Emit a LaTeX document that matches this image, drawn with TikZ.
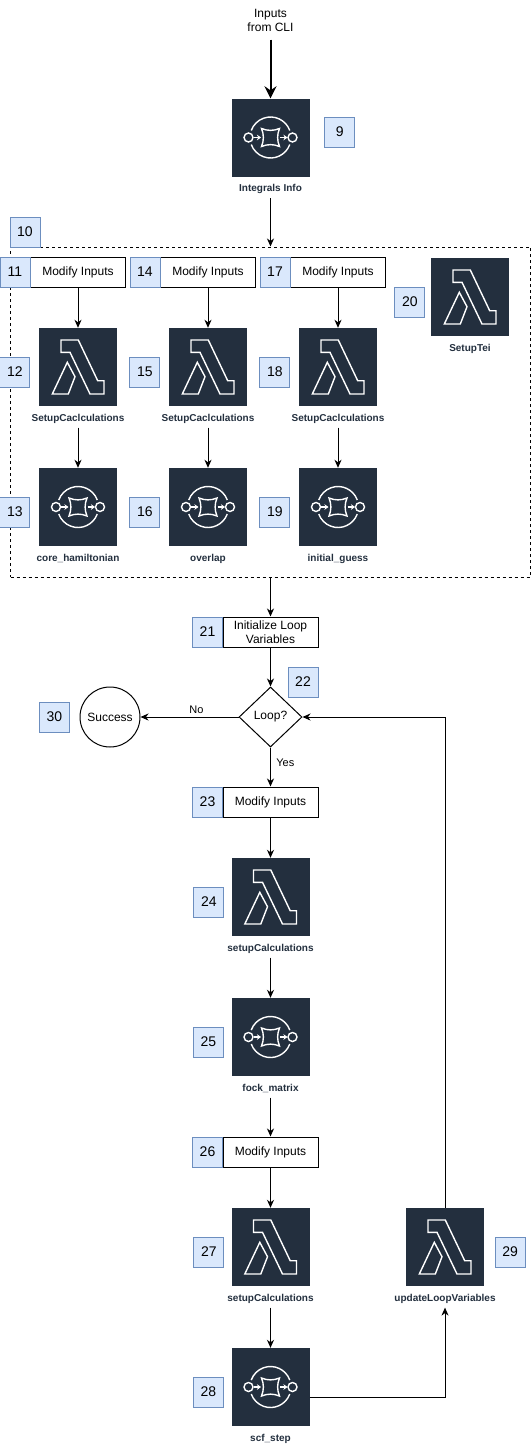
\documentclass[tikz,border=0pt]{standalone}
\usepackage{fontspec}
\setmainfont{Liberation Sans}
\usetikzlibrary{
    arrows.meta,
    shapes.geometric,
    positioning
}
\definecolor{awsdark}{HTML}{232F3E}
\definecolor{badgefill}{HTML}{DAE8FC}
\definecolor{badgeline}{HTML}{6C8EBF}
\tikzstyle{module} = [
    rectangle,
    draw=black,
    fill=white,
    line width=1pt,
    inner sep=0pt,
    minimum width=95pt,
    minimum height=30pt,
    align=center,
    font=\fontsize{12}{14.5}\selectfont
]
\tikzstyle{badge} = [
    rectangle,
    draw=badgeline,
    fill=badgefill,
    line width=1pt,
    inner sep=0pt,
    outer sep=0pt,
    minimum size=30pt,
    font=\fontsize{14}{16}\selectfont
]
\tikzstyle{service} = [
    rectangle,
    draw=none,
    fill=awsdark,
    inner sep=0pt,
    minimum size=78pt
]
\tikzstyle{caption} = [
    inner xsep=0pt,
    inner ysep=4pt,
    text height=8pt,
    text depth=2pt,
    text=awsdark,
    font=\fontsize{10}{11}\selectfont\bfseries
]
\tikzstyle{glyph} = [
    draw=white,
    line width=1.4pt,
    line join=miter
]
\tikzstyle{lambdabox} = [
    service,
    path picture={
        \begin{scope}[shift={(path picture bounding box.center)}]
            \draw[glyph] (-17,27) -- (0.3,27) -- (19.7,-13.7) -- (26,-13.7) -- (26,-27) -- (12,-27)
                -- (-8,14.7) -- (-17,14.7) -- cycle;
            \draw[glyph] (-10.7,4.7) -- (-3,-9.7) -- (-9.7,-27) -- (-25.7,-27) -- cycle;
        \end{scope}
    }
]
\tikzstyle{stepbox} = [
    service,
    path picture={
        \begin{scope}[shift={(path picture bounding box.center)}]
            \draw[glyph] (20:20.5) arc (20:160:20.5);
            \draw[glyph] (-20:20.5) arc (-20:-160:20.5);
            \draw[glyph] (-22,0) circle (4.5);
            \draw[glyph] (22,0) circle (4.5);
            \draw[glyph] (-9,9) .. controls (-3,6.5) and (3,6.5) .. (9,9)
                .. controls (6.5,3) and (6.5,-3) .. (9,-9)
                .. controls (3,-6.5) and (-3,-6.5) .. (-9,-9)
                .. controls (-6.5,-3) and (-6.5,3) .. (-9,9) -- cycle;
            \draw[glyph, -{Stealth[length=4pt,width=5.5pt]}] (-17,0) -- (-9.5,0);
            \draw[glyph, -{Stealth[length=4pt,width=5.5pt]}] (9.5,0) -- (17,0);
        \end{scope}
    }
]
\tikzstyle{flow} = [
    -{Stealth[length=8pt,width=7pt,inset=2.5pt]},
    line width=1pt,
    draw=black
]
\tikzstyle{bigflow} = [
    -{Stealth[length=12pt,width=12pt,inset=4pt]},
    line width=2pt,
    draw=black
]

\begin{document}
\begin{tikzpicture}[x=1pt, y=1pt]
        \useasboundingbox (0,0) rectangle (531,-1448);

        % Dashed group
        \node[draw=black, dashed, line width=1pt, inner sep=0pt, minimum width=520pt, minimum height=330pt] (group) at (270.5,-412) {};
        \node[badge] (n10) at (25,-232) {10};

        % Entry
        \node[align=center, font=\fontsize{12}{14}\selectfont] (cli) at (270.5,-20) {Inputs\\from CLI};
        \node[stepbox] (info) at (270.5,-137.5) {};
        \node[caption, below=3pt of info] (infolabel) {Integrals Info};
        \node[badge, right=15pt of info, yshift=5.5pt] (n9) {9};

        % First column
        \node[module] (modify1) at (78,-272) {Modify Inputs};
        \node[badge, left=0pt of modify1] (n11) {11};
        \node[lambdabox] (setup1) at (78,-367) {};
        \node[caption, below=3pt of setup1] (setup1label) {SetupCaclculations};
        \node[badge, left=9pt of setup1, yshift=-5pt] (n12) {12};
        \node[stepbox] (core) at (78,-507) {};
        \node[caption, below=3pt of core] (corelabel) {core\_hamiltonian};
        \node[badge, left=9pt of core, yshift=-5pt] (n13) {13};

        % Second column
        \node[module] (modify2) at (208,-272) {Modify Inputs};
        \node[badge, left=0pt of modify2] (n14) {14};
        \node[lambdabox] (setup2) at (208,-367) {};
        \node[caption, below=3pt of setup2] (setup2label) {SetupCaclculations};
        \node[badge, left=9pt of setup2, yshift=-5pt] (n15) {15};
        \node[stepbox] (overlap) at (208,-507) {};
        \node[caption, below=3pt of overlap] (overlaplabel) {overlap};
        \node[badge, left=9pt of overlap, yshift=-5pt] (n16) {16};

        % Third column
        \node[module] (modify3) at (338,-272) {Modify Inputs};
        \node[badge, left=0pt of modify3] (n17) {17};
        \node[lambdabox] (setup3) at (338,-367) {};
        \node[caption, below=3pt of setup3] (setup3label) {SetupCaclculations};
        \node[badge, left=9pt of setup3, yshift=-5pt] (n18) {18};
        \node[stepbox] (guess) at (338,-507) {};
        \node[caption, below=3pt of guess] (guesslabel) {initial\_guess};
        \node[badge, left=9pt of guess, yshift=-5pt] (n19) {19};

        % Fourth column
        \node[lambdabox] (tei) at (470,-297) {};
        \node[caption, below=3pt of tei] (teilabel) {SetupTei};
        \node[badge, left=6pt of tei, yshift=-5pt] (n20) {20};

        % Loop
        \node[module] (init) at (270.5,-632) {Initialize Loop\\Variables};
        \node[badge, left=0pt of init] (n21) {21};
        \node[diamond, draw=black, line width=1pt, inner sep=0pt, minimum width=63pt, minimum height=60pt, font=\fontsize{12}{14}\selectfont] (loop) at (270.5,-717) {Loop?};
        \node[badge] (n22) at (303,-682) {22};
        \node[circle, draw=black, line width=1pt, inner sep=0pt, minimum size=60pt, font=\fontsize{12}{14}\selectfont] (success) at (110,-717) {Success};
        \node[badge, left=10pt of success] (n30) {30};

        \node[module] (modify4) at (270.5,-802) {Modify Inputs};
        \node[badge, left=0pt of modify4] (n23) {23};
        \node[lambdabox] (setup4) at (270.5,-897) {};
        \node[caption, below=3pt of setup4] (setup4label) {setupCalculations};
        \node[badge, left=7.5pt of setup4, yshift=-5pt] (n24) {24};
        \node[stepbox] (fock) at (270.5,-1037) {};
        \node[caption, below=3pt of fock] (focklabel) {fock\_matrix};
        \node[badge, left=8pt of fock, yshift=-5pt] (n25) {25};

        \node[module] (modify5) at (270.5,-1152) {Modify Inputs};
        \node[badge, left=0pt of modify5] (n26) {26};
        \node[lambdabox] (setup5) at (270.5,-1247) {};
        \node[caption, below=3pt of setup5] (setup5label) {setupCalculations};
        \node[badge, left=7.5pt of setup5, yshift=-5pt] (n27) {27};
        \node[stepbox] (scf) at (270.5,-1387) {};
        \node[caption, below=3pt of scf] (scflabel) {scf\_step};
        \node[badge, left=8pt of scf, yshift=-5pt] (n28) {28};

        \node[lambdabox] (update) at (445,-1247) {};
        \node[caption, below=3pt of update] (updatelabel) {updateLoopVariables};
        \node[badge, right=11pt of update, yshift=-5pt] (n29) {29};

        % Arrows
        \draw[bigflow, shorten <=5pt] (cli) -- (info);
        \draw[flow] (infolabel) -- (group.north -| infolabel);
        \draw[flow] (modify1) -- (setup1);
        \draw[flow] (setup1label) -- (core);
        \draw[flow] (modify2) -- (setup2);
        \draw[flow] (setup2label) -- (overlap);
        \draw[flow] (modify3) -- (setup3);
        \draw[flow] (setup3label) -- (guess);
        \draw[flow] (group.south -| init) -- (init);
        \draw[flow] (init) -- (loop);
        \draw[flow] (loop) -- node[above, pos=0.43, font=\fontsize{11}{13}\selectfont] (nolabel) {No} (success);
        \draw[flow] (loop) -- node[right, pos=0.38, xshift=2pt, font=\fontsize{11}{13}\selectfont] (yeslabel) {Yes} (modify4);
        \draw[flow] (modify4) -- (setup4);
        \draw[flow] (setup4label) -- (fock);
        \draw[flow] (focklabel) -- (modify5);
        \draw[flow] (modify5) -- (setup5);
        \draw[flow] (setup5label) -- (scf);
        \draw[flow] ([yshift=-10pt]scf.east) -| (updatelabel);
        \draw[flow] (update) |- (loop);
    \end{tikzpicture}
\end{document}
